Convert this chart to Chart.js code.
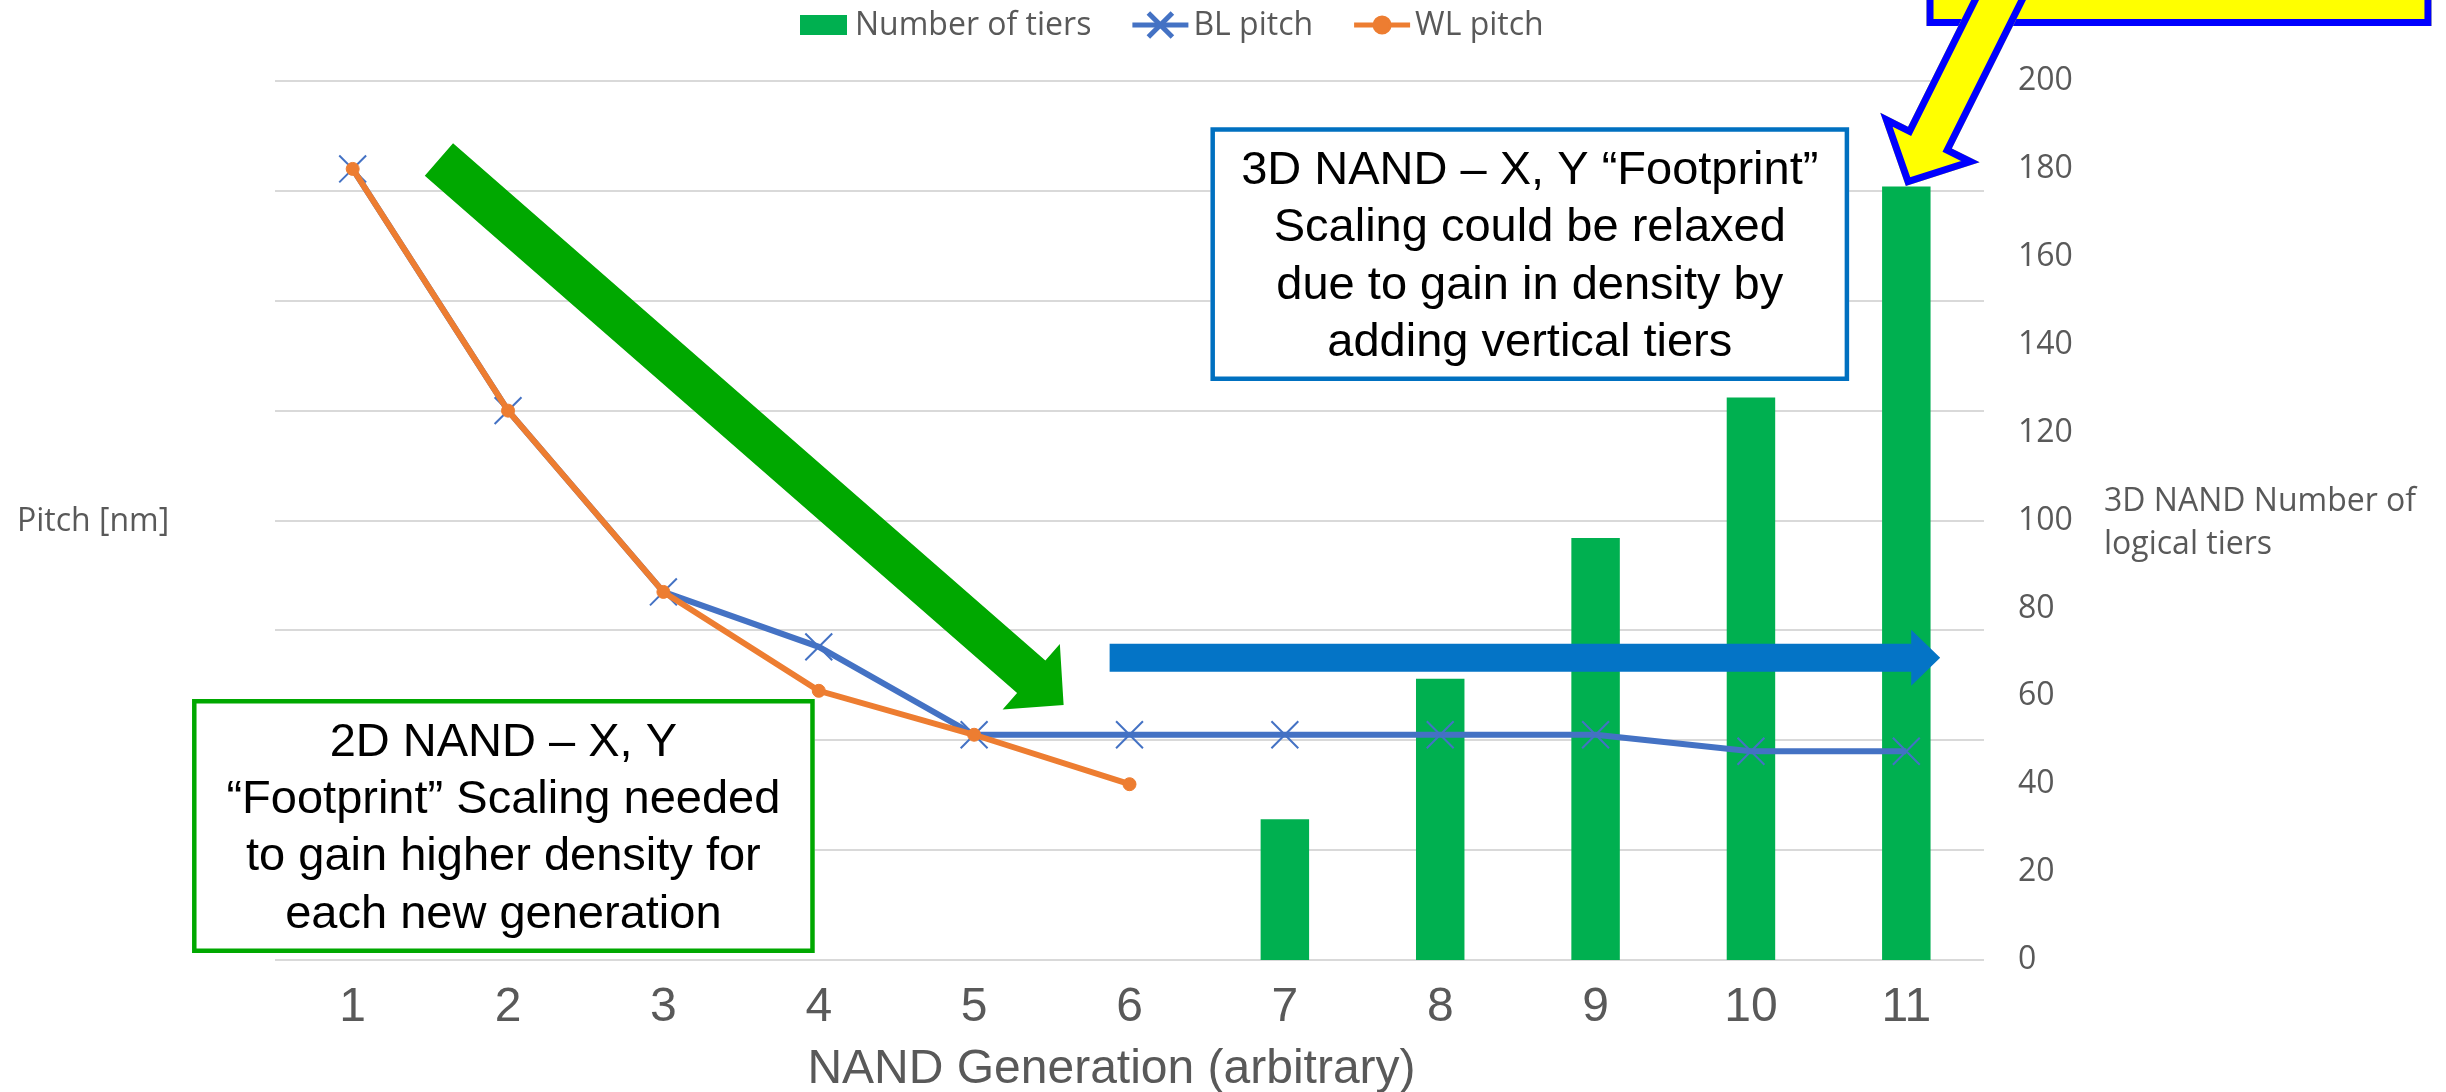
<!DOCTYPE html>
<html>
<head>
<meta charset="utf-8">
<title>NAND pitch scaling and 3D tiers</title>
<script src="https://cdn.jsdelivr.net/npm/chart.js@4.4.1/dist/chart.umd.min.js"></script>
<style>
  html, body { margin: 0; padding: 0; background: #ffffff; }
  canvas { display: block; }
</style>
</head>
<body>
<canvas id="chart" width="2446" height="1092"></canvas>
<script>
// ---- data ----
const generations = ['1', '2', '3', '4', '5', '6', '7', '8', '9', '10', '11'];
const blPitch = [144, 100, 67, 57, 41, 41, 41, 41, 41, 38, 38];
const wlPitch = [144, 100, 67, 49, 41, 32, null, null, null, null, null];
const logicalTiers = [null, null, null, null, null, null, 32, 64, 96, 128, 176];

const pitchTicks = [0, 20, 40, 60, 80, 100, 120, 140, 160];
const tierTicks = [0, 20, 40, 60, 80, 100, 120, 140, 160, 180, 200];

const seriesNames = ['Number of tiers', 'BL pitch', 'WL pitch'];
const xTitle = 'NAND Generation (arbitrary)';
const leftTitle = 'Pitch [nm]';
const rightTitle = ['3D NAND Number of', 'logical tiers'];
const note2D = ['2D NAND \u2013 X, Y', '\u201CFootprint\u201D Scaling needed', 'to gain higher density for', 'each new generation'];
const note3D = ['3D NAND \u2013 X, Y \u201CFootprint\u201D', 'Scaling could be relaxed', 'due to gain in density by', 'adding vertical tiers'];

// ---- styling ----
const GRAY = '#595959';
const GRID = '#D9D9D9';
const GREEN_BAR = '#00B050';
const BLUE_LINE = '#4472C4';
const ORANGE_LINE = '#ED7D31';
const UI_FONT = '"Open Sans", "Noto Sans", sans-serif';
const ARIAL = '"Liberation Sans", Arial, sans-serif';

// callout geometry, in axis units (x = generation index from 0, y = pitch nm)
const callouts = {
  downArrow:  { from: [0.555, 145.7], to: [4.576, 46.4], shaft: 43, head: 87, headLen: 43, color: '#00A800' },
  rightArrow: { from: [4.872, 55.0], to: [10.218, 55.0], shaft: 28, head: 56, headLen: 29, color: '#0474C6' },
  box2D: { x0: -1.034, x1: 2.974, yTop: 47.5, yBottom: 1.27, border: '#00A800', lines: note2D },
  box3D: { x0: 5.521, x1: 9.632, yTop: 151.6, yBottom: 105.4, border: '#0070C0', lines: note3D },
  yellowBox: { x0: 10.13, x1: 13.38, yTop: 186, yBottom: 170 },
  yellowArrow: { from: [10.69, 180.2], to: [9.997, 140.9], shaft: 49, head: 111, headLen: 54 }
};

function arrowPath(ctx, x0, y0, x1, y1, shaftW, headW, headL) {
  const dx = x1 - x0, dy = y1 - y0, L = Math.hypot(dx, dy);
  const ux = dx / L, uy = dy / L, nx = -uy, ny = ux;
  const bx = x1 - ux * headL, by = y1 - uy * headL;
  const s = shaftW / 2, h = headW / 2;
  const pts = [
    [x0 + nx * s, y0 + ny * s],
    [bx + nx * s, by + ny * s],
    [bx + nx * h, by + ny * h],
    [x1, y1],
    [bx - nx * h, by - ny * h],
    [bx - nx * s, by - ny * s],
    [x0 - nx * s, y0 - ny * s]
  ];
  ctx.beginPath();
  pts.forEach((p, i) => (i ? ctx.lineTo(p[0], p[1]) : ctx.moveTo(p[0], p[1])));
  ctx.closePath();
}

// stroke drawn inside the current path only
function innerStroke(ctx, color, width) {
  ctx.save();
  ctx.clip();
  ctx.lineWidth = width * 2;
  ctx.strokeStyle = color;
  ctx.lineJoin = 'miter';
  ctx.stroke();
  ctx.restore();
}

const decorations = {
  id: 'decorations',
  afterDatasetsDraw(chart) {
    const ctx = chart.ctx;
    const xs = chart.scales.x, ys = chart.scales.y;
    const P = (a) => [xs.getPixelForValue(a[0]), ys.getPixelForValue(a[1])];

    // yellow callout box (runs off the top edge)
    {
      const b = callouts.yellowBox;
      const l = xs.getPixelForValue(b.x0), r = xs.getPixelForValue(b.x1);
      const t = ys.getPixelForValue(b.yTop), btm = ys.getPixelForValue(b.yBottom);
      ctx.save();
      ctx.beginPath();
      ctx.rect(l, t, r - l, btm - t);
      ctx.fillStyle = '#FFFF00';
      ctx.fill();
      innerStroke(ctx, '#0000FF', 7);
      ctx.restore();
    }
    // yellow arrow pointing at the tallest bar
    {
      const a = callouts.yellowArrow;
      const [x0, y0] = P(a.from), [x1, y1] = P(a.to);
      ctx.save();
      arrowPath(ctx, x0, y0, x1, y1, a.shaft, a.head, a.headLen);
      ctx.fillStyle = '#FFFF00';
      ctx.fill();
      innerStroke(ctx, '#0000FF', 7);
      ctx.restore();
    }
    // solid block arrows
    ['downArrow', 'rightArrow'].forEach((k) => {
      const a = callouts[k];
      const [x0, y0] = P(a.from), [x1, y1] = P(a.to);
      ctx.save();
      arrowPath(ctx, x0, y0, x1, y1, a.shaft, a.head, a.headLen);
      ctx.fillStyle = a.color;
      ctx.fill();
      ctx.restore();
    });
    // text boxes
    ['box2D', 'box3D'].forEach((k) => {
      const b = callouts[k];
      const l = xs.getPixelForValue(b.x0), r = xs.getPixelForValue(b.x1);
      const t = ys.getPixelForValue(b.yTop), btm = ys.getPixelForValue(b.yBottom);
      ctx.save();
      ctx.beginPath();
      ctx.rect(l, t, r - l, btm - t);
      ctx.fillStyle = '#FFFFFF';
      ctx.fill();
      innerStroke(ctx, b.border, 4.5);
      ctx.fillStyle = '#000000';
      ctx.font = '47px ' + ARIAL;
      ctx.textAlign = 'center';
      ctx.textBaseline = 'alphabetic';
      const cx = (l + r) / 2;
      b.lines.forEach((line, i) => ctx.fillText(line, cx, t + 57 + i * 57.2));
      ctx.restore();
    });
  },
  afterDraw(chart) {
    const ctx = chart.ctx;
    const area = chart.chartArea;
    const ds = chart.data.datasets;
    ctx.save();

    // horizontal axis title
    ctx.font = '48px ' + ARIAL;
    ctx.fillStyle = GRAY;
    ctx.textAlign = 'center';
    ctx.textBaseline = 'alphabetic';
    ctx.fillText(xTitle, (area.left + area.right) / 2 - 18, area.bottom + 123);

    ctx.font = '32px ' + UI_FONT;
    ctx.fillStyle = GRAY;
    ctx.textBaseline = 'middle';
    ctx.textAlign = 'left';

    // vertical axis titles, written horizontally
    const midY = (area.top + area.bottom) / 2;
    ctx.fillText(leftTitle, 17, midY + 1);
    const rx = chart.scales.y1.right + 30;
    ctx.fillText(rightTitle[0], rx, midY - 19);
    ctx.fillText(rightTitle[1], rx, midY + 24);

    // legend
    const cy = 25;
    let x = 800;
    ds.forEach((d) => {
      if (d.type === 'bar') {
        ctx.fillStyle = d.backgroundColor;
        ctx.fillRect(x, cy - 10, 47, 20);
        x += 47 + 8;
      } else {
        ctx.strokeStyle = d.borderColor;
        ctx.lineWidth = 5;
        ctx.beginPath();
        ctx.moveTo(x, cy);
        ctx.lineTo(x + 56, cy);
        ctx.stroke();
        Chart.helpers.drawPoint(ctx, {
          pointStyle: d.pointStyle,
          radius: d.pointStyle === 'circle' ? 7 : 17,
          borderWidth: d.pointBorderWidth,
          rotation: 0
        }, x + 28, cy);
        if (d.pointStyle === 'circle') {
          ctx.fillStyle = d.pointBackgroundColor;
          ctx.beginPath();
          ctx.arc(x + 28, cy, 7, 0, Math.PI * 2);
          ctx.fill();
        }
        x += 56 + 5;
      }
      ctx.fillStyle = GRAY;
      ctx.fillText(d.label, x, cy + 1);
      x += ctx.measureText(d.label).width + 41;
    });
    ctx.restore();
  }
};

new Chart(document.getElementById('chart'), {
  data: {
    labels: generations,
    datasets: [
      {
        type: 'bar',
        label: seriesNames[0],
        data: logicalTiers,
        yAxisID: 'y1',
        backgroundColor: GREEN_BAR,
        borderWidth: 0,
        barPercentage: 0.312,
        categoryPercentage: 1.0,
        order: 3
      },
      {
        type: 'line',
        label: seriesNames[1],
        data: blPitch,
        yAxisID: 'y',
        borderColor: BLUE_LINE,
        backgroundColor: BLUE_LINE,
        borderWidth: 6,
        tension: 0,
        pointStyle: 'crossRot',
        pointRadius: 19,
        pointBorderWidth: 2,
        pointBorderColor: BLUE_LINE,
        pointBackgroundColor: BLUE_LINE,
        order: 2
      },
      {
        type: 'line',
        label: seriesNames[2],
        data: wlPitch,
        yAxisID: 'y',
        borderColor: ORANGE_LINE,
        backgroundColor: ORANGE_LINE,
        borderWidth: 6,
        tension: 0,
        spanGaps: false,
        pointStyle: 'circle',
        pointRadius: 6.5,
        pointBorderWidth: 1,
        pointBorderColor: ORANGE_LINE,
        pointBackgroundColor: ORANGE_LINE,
        order: 1
      }
    ]
  },
  options: {
    responsive: false,
    animation: false,
    devicePixelRatio: 1,
    layout: { padding: { left: 275, right: 372, top: 81, bottom: 0 } },
    plugins: {
      legend: { display: false },
      tooltip: { enabled: false },
      title: { display: false }
    },
    scales: {
      x: {
        type: 'category',
        offset: true,
        grid: { display: false, drawTicks: false },
        border: { display: false },
        ticks: {
          color: GRAY,
          font: { family: ARIAL, size: 48 },
          padding: 19,
          maxRotation: 0,
          autoSkip: false
        },
        title: { display: false },
        afterFit(s) { s.height = 132; }
      },
      y: {
        type: 'linear',
        position: 'left',
        min: pitchTicks[0],
        max: pitchTicks[pitchTicks.length - 1],
        afterBuildTicks(s) { s.ticks = pitchTicks.map((v) => ({ value: v })); },
        grid: { color: GRID, lineWidth: 2, drawTicks: false },
        border: { display: false },
        ticks: { display: false },
        afterFit(s) { s.width = 0; }
      },
      y1: {
        type: 'linear',
        position: 'right',
        min: tierTicks[0],
        max: tierTicks[tierTicks.length - 1],
        afterBuildTicks(s) { s.ticks = tierTicks.map((v) => ({ value: v })); },
        grid: { display: false, drawTicks: false },
        border: { display: false },
        ticks: {
          color: GRAY,
          font: { family: UI_FONT, size: 32 },
          padding: 34
        },
        afterFit(s) { s.width = 90; }
      }
    }
  },
  plugins: [decorations]
});
</script>
</body>
</html>
